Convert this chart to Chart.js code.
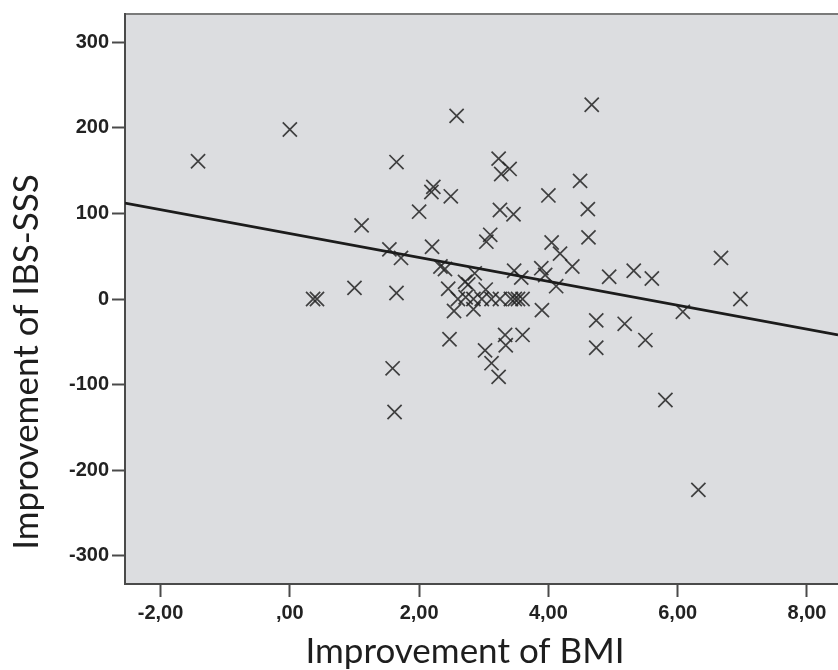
<!DOCTYPE html>
<html lang="en">
<head>
    <meta charset="UTF-8">
    <title>Improvement of BMI vs IBS-SSS</title>
    <script src="https://cdn.jsdelivr.net/npm/chart.js@4"></script>
    <style>
        html, body {
            margin: 0;
            padding: 0;
            background: #ffffff;
            overflow: hidden;
        }
        #wrap {
            width: 838px;
            height: 670px;
        }
    </style>
</head>
<body>
<div id="wrap">
    <canvas id="scatter" width="838" height="670"></canvas>
</div>
<script>
    // values
    const bmiGain = [
        -1.42, 0.00, 0.36, 0.42, 1.00, 1.11, 1.65, 1.54, 1.72, 1.65,
        1.59, 1.62, 2.58, 3.23, 3.40, 3.27, 2.22, 2.19, 2.49, 2.00,
        3.25, 3.46, 4.00, 4.49, 4.67, 4.61, 3.10, 3.04, 4.62, 2.20,
        4.05, 4.18, 4.37, 6.67, 6.97, 6.08, 4.94, 5.32, 5.60, 2.33,
        2.40, 2.86, 3.47, 3.58, 3.89, 3.95, 4.12, 2.45, 2.71, 2.76,
        3.03, 2.60, 2.72, 2.84, 2.97, 3.12, 3.25, 3.42, 3.48, 3.53,
        3.60, 2.54, 2.84, 3.90, 2.47, 3.02, 3.12, 3.23, 3.33, 3.34,
        3.60, 4.74, 4.74, 5.18, 5.50, 5.81, 6.32
    ];
    const ibsGain = [
        161, 198, 0, 0, 13, 86, 160, 58, 48, 7,
        -81, -132, 214, 164, 152, 146, 131, 125, 120, 102,
        104, 99, 121, 138, 227, 105, 75, 67, 72, 61,
        66, 53, 38, 48, 0, -15, 26, 33, 24, 38,
        35, 30, 33, 25, 36, 28, 15, 12, 20, 17,
        11, 0, 2, 0, 0, 0, 0, 0, 0, 0,
        0, -14, -12, -13, -47, -60, -75, -91, -42, -54,
        -42, -25, -57, -29, -48, -118, -223
    ];
    // fit line end points, read at the plot edges
    const fitX = [-2.55, 8.48];
    const fitY = [112, -42];

    const xTicks = [-2, 0, 2, 4, 6, 8];
    const yTicks = [-300, -200, -100, 0, 100, 200, 300];

    const points = bmiGain.map((v, i) => ({ x: v, y: ibsGain[i] }));
    const fitLine = fitX.map((v, i) => ({ x: v, y: fitY[i] }));

    function commaLabel(v) {
        let s = Math.abs(v).toFixed(2).replace('.', ',');
        if (s.startsWith('0,')) s = s.slice(1);
        return (v < 0 ? '-' : '') + s;
    }

    // grey plot panel and its top edge
    const panelBg = {
        id: 'panelBg',
        beforeDraw(chart) {
            const { ctx, chartArea: a } = chart;
            ctx.save();
            ctx.fillStyle = '#dcdde0';
            ctx.fillRect(a.left, a.top, a.right - a.left, a.bottom - a.top);
            ctx.strokeStyle = '#7a7a7a';
            ctx.lineWidth = 2;
            ctx.beginPath();
            ctx.moveTo(a.left, a.top);
            ctx.lineTo(a.right, a.top);
            ctx.stroke();
            ctx.restore();
        }
    };

    // axis titles (placed like in the source figure)
    const axisTitles = {
        id: 'axisTitles',
        afterDraw(chart) {
            const { ctx } = chart;
            ctx.save();
            ctx.fillStyle = '#1e1e1e';
            ctx.font = '35px Lato';
            ctx.textAlign = 'center';
            ctx.textBaseline = 'alphabetic';
            ctx.fillText('Improvement of BMI', 465, 663);
            ctx.translate(38, 362);
            ctx.rotate(-Math.PI / 2);
            ctx.fillText('Improvement of IBS-SSS', 0, 0);
            ctx.restore();
        }
    };

    const tickFont = { family: 'Liberation Sans, Arial', size: 20, weight: 'bold' };

    new Chart(document.getElementById('scatter'), {
        type: 'scatter',
        data: {
            datasets: [
                {
                    label: 'Patients',
                    data: points,
                    pointStyle: 'crossRot',
                    radius: 10,
                    hoverRadius: 10,
                    borderWidth: 1.7,
                    borderColor: 'rgba(35, 35, 35, 0.85)',
                    backgroundColor: 'rgba(35, 35, 35, 0.85)',
                    order: 2
                },
                {
                    type: 'line',
                    label: 'Fit',
                    data: fitLine,
                    borderColor: '#1c1c1c',
                    borderWidth: 2.6,
                    pointRadius: 0,
                    fill: false,
                    order: 1
                }
            ]
        },
        options: {
            responsive: false,
            animation: false,
            layout: {
                autoPadding: false,
                padding: { top: 14, right: 0, left: 0, bottom: 0 }
            },
            plugins: {
                legend: { display: false },
                tooltip: { enabled: false }
            },
            scales: {
                x: {
                    type: 'linear',
                    min: -2.55,
                    max: 8.48,
                    afterBuildTicks: s => { s.ticks = xTicks.map(v => ({ value: v })); },
                    afterFit: s => {
                        s.height = 86;
                        s.paddingLeft = 0;
                        s.paddingRight = 0;
                    },
                    grid: {
                        drawOnChartArea: false,
                        drawTicks: true,
                        tickLength: 13,
                        tickWidth: 2,
                        tickColor: '#4a4a4a'
                    },
                    border: { display: true, color: '#4a4a4a', width: 2 },
                    ticks: {
                        color: '#222',
                        font: tickFont,
                        padding: 4,
                        maxRotation: 0,
                        callback: v => commaLabel(v)
                    }
                },
                y: {
                    type: 'linear',
                    min: -333,
                    max: 333,
                    afterBuildTicks: s => { s.ticks = yTicks.map(v => ({ value: v })); },
                    afterFit: s => {
                        s.width = 125;
                        s.paddingTop = 0;
                        s.paddingBottom = 0;
                    },
                    grid: {
                        drawOnChartArea: false,
                        drawTicks: true,
                        tickLength: 13,
                        tickWidth: 2,
                        tickColor: '#4a4a4a'
                    },
                    border: { display: true, color: '#4a4a4a', width: 2 },
                    ticks: {
                        color: '#222',
                        font: tickFont,
                        padding: 3,
                        callback: v => String(v)
                    }
                }
            }
        },
        plugins: [panelBg, axisTitles]
    });
</script>
</body>
</html>
